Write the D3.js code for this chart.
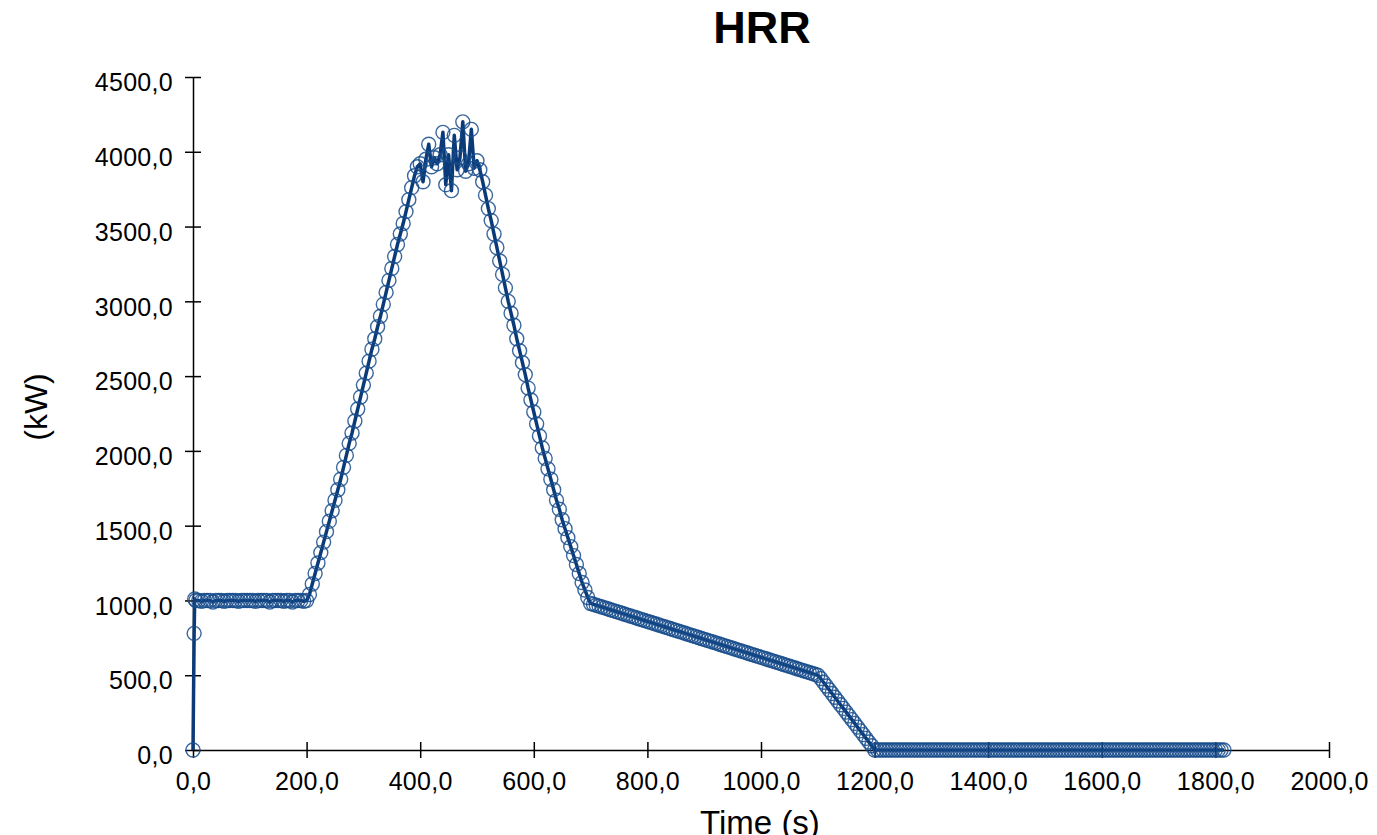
<!DOCTYPE html>
<html lang="en">
<head>
<meta charset="utf-8">
<script src="https://d3js.org/d3.v7.min.js"></script>
<style>
  body { margin: 0; background: #fff; }
  text { font-family: "Liberation Sans", Arial, sans-serif; }
</style>
</head>
<body>
<div id="chart"></div>
<script>

    // first seconds of the record (ignition)
    var startTime = [0, 2, 3];
    var startHrr = [0, 780, 1010];

    // HRR (kW) every 5 s from t = 5 s to t = 1815 s
    var sampleStep = 5;
    var hrr = [].concat(
      [1000,1000,995,1000,1000,1000,990,1000,1000,1000,995,1000,1000,1000,1000,995,1000,1000,1000],
      [1000,1000,995,1000,1000,1000,1000,990,1000,1000,1000,1000,995,1000,1000,990,1000,1000,1000,995],
      [1000,1040,1110,1180,1250,1320,1390,1460,1530,1600,1670,1740,1810,1890,1970,2050,2120,2200,2280,2360],
      [2440,2520,2600,2680,2750,2830,2900,2980,3060,3140,3220,3300,3380,3450,3520,3600,3680,3760,3840,3900],
      [3920,3800,3950,4050,3900,3960,3920,3980,4130,3780,3980,3740,4110,3880,3960,4200,3870,3920,4150,3890],
      [3940,3880,3800,3710,3620,3540,3450,3360,3270,3180,3090,3000,2920,2840,2750,2670,2590,2510,2420,2340],
      [2260,2180,2100,2020,1950,1880,1810,1740,1670,1610,1540,1480,1420,1360,1300,1240,1180,1120,1070,1020],
      [980,974,968,962,956,950,944,938,932,926,920,914,908,902,896,890,884,878,872,866],
      [860,854,848,842,836,830,824,818,812,806,800,794,788,782,776,770,764,758,752,746],
      [740,734,728,722,716,710,704,698,692,686,680,674,668,662,656,650,644,638,632,626],
      [620,614,608,602,596,590,584,578,572,566,560,554,548,542,536,530,524,518,512,506],
      [500,478,453,428,403,378,353,328,303,278,253,228,203,178,153,128,103,78,53,28],
      [0,0,0,0,0,0,0,0,0,0,0,0,0,0,0,0,0,0,0,0],
      [0,0,0,0,0,0,0,0,0,0,0,0,0,0,0,0,0,0,0,0],
      [0,0,0,0,0,0,0,0,0,0,0,0,0,0,0,0,0,0,0,0],
      [0,0,0,0,0,0,0,0,0,0,0,0,0,0,0,0,0,0,0,0],
      [0,0,0,0,0,0,0,0,0,0,0,0,0,0,0,0,0,0,0,0],
      [0,0,0,0,0,0,0,0,0,0,0,0,0,0,0,0,0,0,0,0],
      [0,0,0,0]
    );

    var xTicks = [0, 200, 400, 600, 800, 1000, 1200, 1400, 1600, 1800, 2000];
    var yTicks = [0, 500, 1000, 1500, 2000, 2500, 3000, 3500, 4000, 4500];

    var data = startTime.map(function(t, i) { return {t: t, v: startHrr[i]}; })
      .concat(hrr.map(function(v, i) { return {t: sampleStep * (i + 1), v: v}; }));

    var width = 1377, height = 835;
    var margin = {top: 77, right: 48, bottom: 85, left: 193};

    var svg = d3.select("#chart")
      .append("svg")
        .attr("width", width)
        .attr("height", height);

    var x = d3.scaleLinear()
      .domain([0, 2000])
      .range([margin.left, width - margin.right]);

    var y = d3.scaleLinear()
      .domain([0, 4500])
      .range([height - margin.bottom, margin.top]);

    var fmt = function(d) { return d3.format(".1f")(d).replace(".", ","); };

    // X axis
    var gx = svg.append("g")
      .attr("transform", "translate(0," + y(0) + ")")
      .call(d3.axisBottom(x).tickValues(xTicks).tickFormat(fmt).tickSizeInner(8).tickSizeOuter(0).tickPadding(14));
    gx.selectAll(".tick line").attr("y1", -8);

    // Y axis
    var gy = svg.append("g")
      .attr("transform", "translate(" + x(0) + ",0)")
      .call(d3.axisLeft(y).tickValues(yTicks).tickFormat(fmt).tickSizeInner(8).tickSizeOuter(0).tickPadding(12));
    gy.selectAll(".tick line").attr("x1", 8);
    gy.selectAll(".tick text").attr("dy", "0.55em");

    svg.selectAll(".domain, .tick line").attr("stroke", "#000").attr("stroke-width", 1.5);
    svg.selectAll(".tick text")
      .attr("fill", "#000")
      .style("font-size", "25px")
      .style("letter-spacing", "0.3px")
      .style("font-family", "'Liberation Sans', Arial, sans-serif");

    // line
    svg.append("path")
      .datum(data)
      .attr("fill", "none")
      .attr("stroke", "#0a3a78")
      .attr("stroke-width", 3.5)
      .attr("stroke-linejoin", "round")
      .attr("d", d3.line()
        .x(function(d) { return x(d.t); })
        .y(function(d) { return y(d.v); }));

    // open circle markers
    svg.append("g")
      .selectAll("circle")
      .data(data)
      .enter()
      .append("circle")
        .attr("cx", function(d) { return x(d.t); })
        .attr("cy", function(d) { return y(d.v); })
        .attr("r", 7)
        .attr("fill", "none")
        .attr("stroke", "#184c8c")
        .attr("stroke-opacity", 0.85)
        .attr("stroke-width", 1.4);

    // title
    svg.append("text")
      .attr("x", 762)
      .attr("y", 43)
      .attr("text-anchor", "middle")
      .style("font-size", "45px")
      .style("font-weight", "bold")
      .text("HRR");

    // axis titles
    svg.append("text")
      .attr("text-anchor", "middle")
      .attr("transform", "translate(47," + 407 + ") rotate(-90)")
      .style("font-size", "32px")
      .text("(kW)");

    svg.append("text")
      .attr("x", 760)
      .attr("y", 834)
      .attr("text-anchor", "middle")
      .style("font-size", "33px")
      .text("Time (s)");

</script>
</body>
</html>
